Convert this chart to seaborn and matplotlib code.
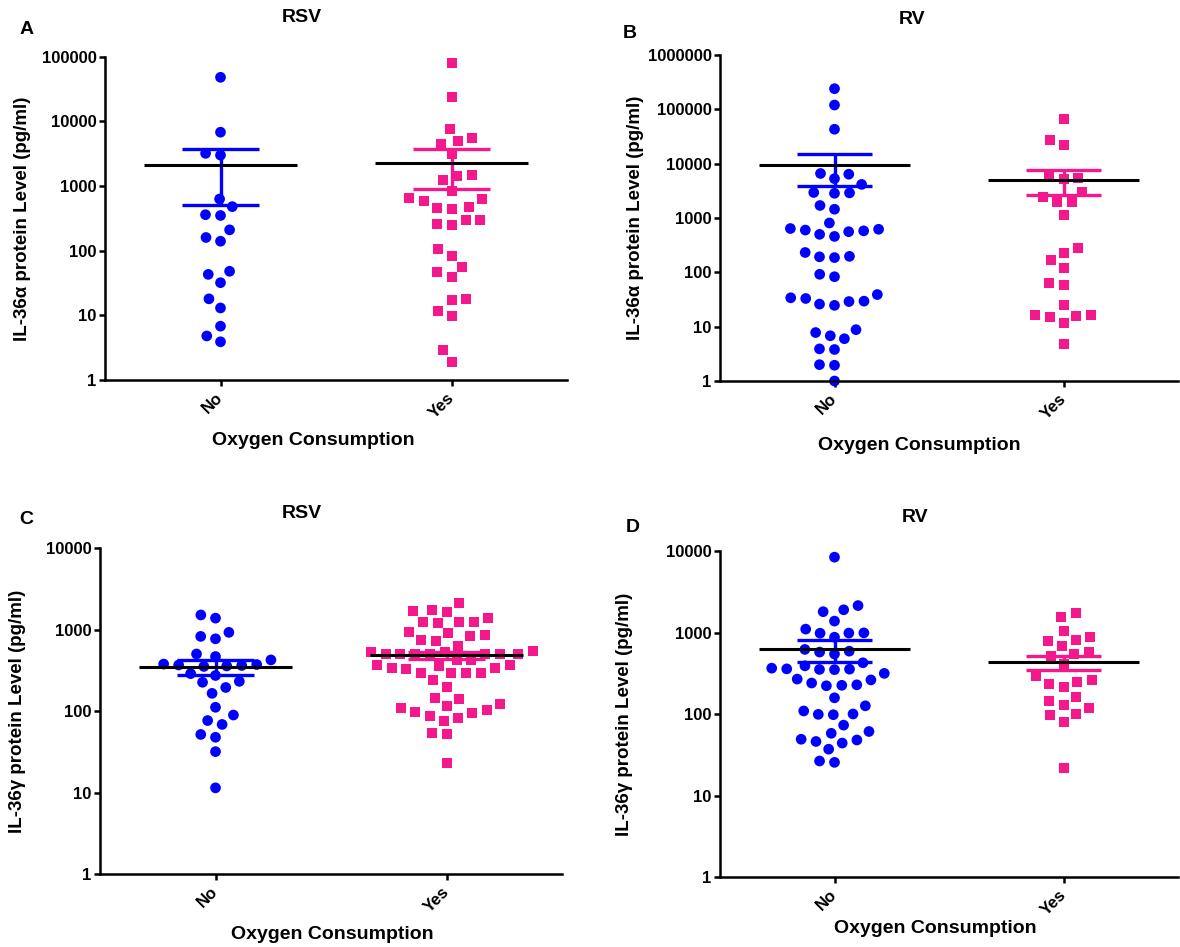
#!/usr/bin/env python3
# IL-36 protein levels by oxygen consumption (RSV / RV)

import pandas as pd
import numpy as np
import matplotlib
matplotlib.use('Agg')
import matplotlib.pyplot as plt
import matplotlib.ticker as mtick
import seaborn as sns

sns.set_style('ticks')
plt.rcParams['font.family'] = ['Liberation Sans', 'DejaVu Sans']
plt.rcParams['font.weight'] = 'bold'
for key in ['text.color', 'axes.labelcolor', 'xtick.color', 'ytick.color']:
    plt.rcParams[key] = 'black'

# Categories and colours
groups = ['No', 'Yes']
blue = '#0000FF'
pink = '#F5178C'

# Panel A: RSV, IL-36alpha
a_no = [48000, 6800, 3200, 3000, 630, 480, 360, 350, 210, 160, 140, 48, 43, 32, 18, 13, 6.8, 4.8, 3.9]
a_yes = [80000, 23600, 7500, 5500, 4900, 4500, 3100, 1500, 1450, 1260, 840, 660, 640, 590, 480,
         455, 440, 300, 295, 255, 250, 107, 84, 55, 46, 39, 17.8, 17.4, 11.7, 9.8, 2.9, 1.9]
a_mean = [2100, 2290]
a_lo = [506, 915]
a_hi = [3720, 3720]

# Panel B: RV, IL-36alpha
b_no = [240000, 120000, 43000, 6600, 6400, 5300, 4150, 2950, 2900, 2850, 1700, 1450, 810, 640, 620,
        600, 580, 560, 500, 458, 232, 197, 193, 187, 92, 83, 39, 34, 33, 29.5, 29, 26, 24.7, 8.8,
        7.8, 6.8, 6.0, 3.9, 3.8, 2.0, 1.95, 1.0]
b_yes = [65000, 27000, 22000, 5900, 5400, 5200, 3000, 2400, 2000, 1960, 1150, 285, 225, 168, 118,
         64, 58, 25.5, 16.4, 16.2, 16.0, 14.9, 11.7, 4.8]
b_mean = [9600, 5100]
b_lo = [3870, 2600]
b_hi = [15300, 7700]

# Panel C: RSV, IL-36gamma
c_no = [1520, 1390, 930, 830, 775, 505, 470, 427, 380, 375, 370, 365, 360, 355, 290, 275, 233, 227,
        196, 166, 112, 90, 77, 69, 52, 48, 32, 11.5]
c_yes = [2130, 1760, 1680, 1660, 1390, 1250, 1240, 1230, 1220, 950, 920, 870, 830, 745, 735, 640,
         545, 540, 535, 510, 508, 506, 504, 502, 500, 498, 428, 422, 368, 365, 362, 340, 337, 334,
         298, 296, 294, 292, 240, 200, 147, 143, 122, 115, 111, 104, 97, 94, 88, 83, 77, 54, 52, 23.5]
c_mean = [350, 490]
c_lo = [280, 440]
c_hi = [430, 540]

# Panel D: RV, IL-36gamma
d_no = [8400, 2140, 1900, 1800, 1380, 1100, 990, 985, 980, 875, 620, 590, 575, 545, 425, 390, 365,
        358, 355, 352, 350, 315, 268, 262, 240, 228, 225, 222, 158, 126, 109, 100, 99, 98, 73, 61,
        58, 49, 48, 46, 44, 37, 26.5, 25.5]
d_yes = [1740, 1560, 1050, 890, 810, 785, 680, 580, 540, 515, 410, 290, 262, 250, 235, 216, 160,
         145, 130, 120, 101, 97, 80, 22]
d_mean = [620, 430]
d_lo = [430, 347]
d_hi = [810, 520]

W, H = 1180, 947
fig = plt.figure(figsize=(W / 100, H / 100), dpi=100)


def rect(l, r, t, b):
    return [l / W, 1 - b / H, (r - l) / W, (b - t) / H]


panels = [
    # letter, title, ylabel, no, yes, mean, lo, hi, ymax exp, axes rect, letter pos, title pos, ylab x, xlab xy
    ('A', 'RSV', 'IL-36\u03b1 protein Level (pg/ml)', a_no, a_yes, a_mean, a_lo, a_hi, 5,
     rect(105, 567, 56.7, 380), (27, 30), (302, 18), -0.16, (0.45, -0.162)),
    ('B', 'RV', 'IL-36\u03b1 protein Level (pg/ml)', b_no, b_yes, b_mean, b_lo, b_hi, 6,
     rect(720, 1178, 55, 381), (630, 33), (912, 20), -0.165, (0.435, -0.172)),
    ('C', 'RSV', 'IL-36\u03b3 protein Level (pg/ml)', c_no, c_yes, c_mean, c_lo, c_hi, 4,
     rect(100, 562, 548.3, 874.3), (26, 520), (302, 513), -0.16, (0.502, -0.16)),
    ('D', 'RV', 'IL-36\u03b3 protein Level (pg/ml)', d_no, d_yes, d_mean, d_lo, d_hi, 4,
     rect(720, 1178, 551, 877), (633, 527), (915, 518), -0.19, (0.471, -0.132)),
]

for (letter, title, ylab, no_vals, yes_vals, means, lows, highs, top_exp,
     box, letter_xy, title_xy, ylab_x, xlab_xy) in panels:
    ax = fig.add_axes(box)
    ax.set_yscale('log')

    df_no = pd.DataFrame({'group': 'No', 'value': no_vals})
    df_yes = pd.DataFrame({'group': 'Yes', 'value': yes_vals})

    # linewidth widens the swarm spacing, edgecolor none keeps the marks flat
    sns.swarmplot(x='group', y='value', data=df_no, order=groups, color=blue,
                  marker='o', size=7.7, linewidth=2.6, edgecolor='none', ax=ax, zorder=2)
    sns.swarmplot(x='group', y='value', data=df_yes, order=groups, color=pink,
                  marker='s', size=7.2, linewidth=3.0, edgecolor='none', ax=ax, zorder=2)
    for coll in ax.collections:
        if len(coll.get_offsets()) > 0:
            coll.set_clip_on(False)

    # mean line and SEM bars
    for i, (m, lo, hi) in enumerate(zip(means, lows, highs)):
        c = blue if i == 0 else pink
        ax.plot([i, i], [lo, hi], color=c, lw=2.4, zorder=3, solid_capstyle='butt')
        ax.hlines([lo, hi], i - 0.165, i + 0.165, color=c, lw=2.4, zorder=3)
        ax.hlines(m, i - 0.33, i + 0.33, color='black', lw=2.2, zorder=4)

    ax.set_xlim(-0.5, 1.5)
    ax.set_ylim(1, 10 ** top_exp)
    ticks = [10 ** k for k in range(top_exp + 1)]
    ax.set_yticks(ticks)
    ax.set_yticklabels([str(t) for t in ticks])
    ax.yaxis.set_minor_locator(mtick.NullLocator())

    ax.set_xticks([0, 1])
    ax.set_xticklabels(groups, rotation=45, ha='right', va='center',
                       rotation_mode='anchor', fontsize=12, fontweight='bold')
    for lab in ax.get_yticklabels():
        lab.set_fontsize(12)
        lab.set_fontweight('bold')

    sns.despine(ax=ax)
    for side in ['left', 'bottom']:
        ax.spines[side].set_linewidth(1.8)
        ax.spines[side].set_color('black')
    ax.tick_params(axis='both', length=4, width=1.8, color='black', pad=2)
    ax.tick_params(axis='x', pad=7)

    ax.set_ylabel(ylab, fontsize=13.5, fontweight='bold')
    ax.yaxis.set_label_coords(ylab_x, 0.5)
    ax.set_xlabel('Oxygen Consumption', fontsize=14, fontweight='bold')
    ax.xaxis.set_label_coords(*xlab_xy)

    fig.text(letter_xy[0] / W, 1 - letter_xy[1] / H, letter, fontsize=14,
             fontweight='bold', ha='center', va='center')
    fig.text(title_xy[0] / W, 1 - title_xy[1] / H, title, fontsize=14,
             fontweight='bold', ha='center', va='center')

plt.savefig('out.png', dpi=100)
